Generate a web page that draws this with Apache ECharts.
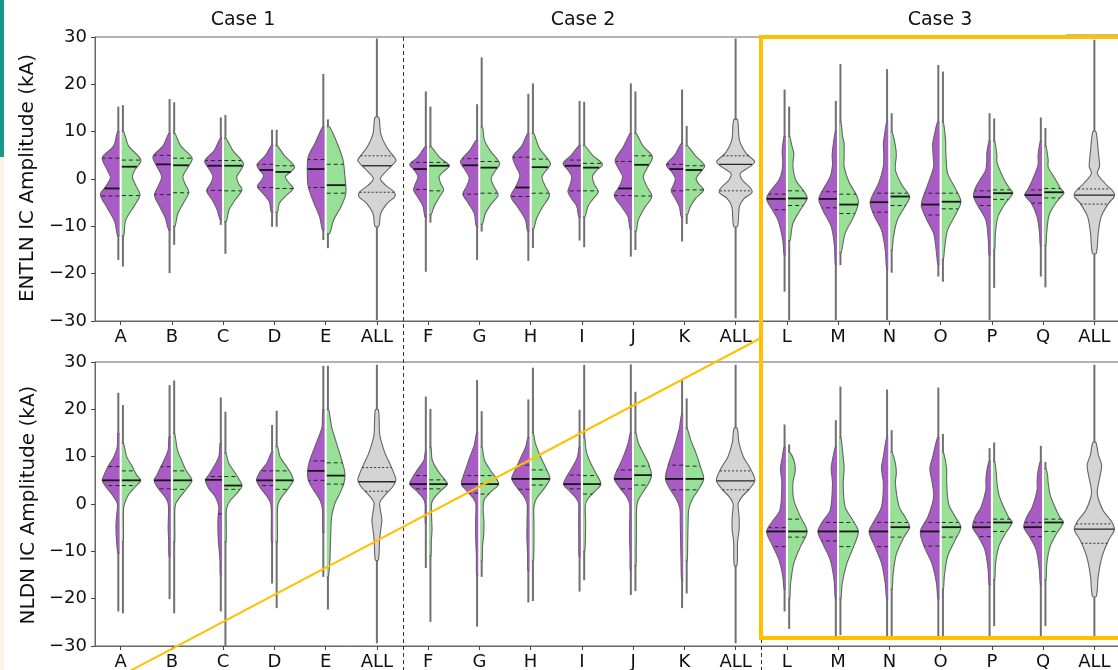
<!DOCTYPE html>
<html>
<head>
<meta charset="utf-8">
<script src="https://cdn.jsdelivr.net/npm/echarts@6/dist/echarts.min.js"></script>
<style>
  html, body { margin: 0; padding: 0; background: #ffffff; }
  #chart { width: 1118px; height: 670px; }
</style>
</head>
<body>
<div id="chart"></div>
<script>
// Sites / cases along the x axis (one "ALL" summary per case)
const CATEGORIES = ['A', 'B', 'C', 'D', 'E', 'ALL', 'F', 'G', 'H', 'I', 'J', 'K', 'ALL',
                    'L', 'M', 'N', 'O', 'P', 'Q', 'ALL'];
const CASE_TITLES = ['Case 1', 'Case 2', 'Case 3'];

// One half violin: tail extent (lo, hi) in kA, quartiles [q1, median, q3],
// and the kernel density profile as [amplitude kA, relative density] from top to bottom.
const H = (lo, hi, q, d) => ({ lo, hi, q, d });

// ---------- ENTLN IC amplitude ----------
const entlnPurple = [
  H(-17.1, 15.3, [-3.6, -2.0, 4.4], [[10, .05], [7, .25], [4.5, .85], [2, .6], [0.3, .42], [-1.5, .65], [-3.3, .95], [-6, .6], [-9, .2], [-12, .05]]),
  H(-19.9, 16.9, [-3.3, 3.1, 5.0], [[9.6, .05], [7, .35], [4.7, .88], [2.5, .65], [0.5, .42], [-1.5, .6], [-3.4, .8], [-6, .5], [-8, .25], [-10.8, .05]]),
  H(-9.7, 13.0, [-2.4, 2.8, 3.9], [[8.5, .05], [6, .35], [3.8, .85], [2, .6], [0.5, .42], [-1, .55], [-2.5, .75], [-4.5, .45], [-6.5, .2], [-8.5, .05]]),
  H(-10.1, 10.4, [-1.8, 1.9, 3.1], [[7, .05], [5, .35], [3, .8], [1.8, .65], [0.7, .45], [-0.5, .6], [-1.6, .78], [-3.2, .45], [-4.8, .15], [-7, .05]]),
  H(-12.9, 22.2, [-1.8, 2.1, 4.1], [[11, .05], [7.5, .45], [4.7, .8], [1.9, .85], [-1.6, .8], [-5.1, .5], [-8, .2], [-10.8, .05]]),
  null,
  H(-19.6, 18.5, [-2.2, 2.1, 3.5], [[6.8, .05], [4.5, .45], [3.1, .85], [1.8, .6], [0.5, .42], [-1, .55], [-2.3, .65], [-4, .4], [-5.8, .15], [-8, .05]]),
  H(-17.1, 15.8, [-3.2, 2.9, 4.3], [[8.2, .05], [6, .4], [3.7, .88], [2, .65], [0.3, .42], [-1.5, .55], [-3.2, .75], [-5.2, .45], [-7.3, .15], [-10, .05]]),
  H(-17.3, 18.0, [-3.7, -1.8, 4.6], [[9.6, .05], [7, .35], [4.7, .82], [2.6, .65], [0.8, .45], [-1.5, .65], [-3.7, .93], [-6, .55], [-8.7, .15], [-11, .05]]),
  H(-13.0, 16.5, [-2.5, 2.8, 4.0], [[7, .05], [5, .45], [3.3, .87], [1.8, .6], [0.5, .42], [-1.2, .5], [-2.7, .62], [-4.3, .4], [-5.8, .15], [-8, .05]]),
  H(-16.4, 20.2, [-3.5, -2.0, 3.7], [[9.6, .05], [6.8, .4], [4.0, .83], [2.2, .65], [0.5, .44], [-1.5, .6], [-3.5, .88], [-5.8, .5], [-8, .15], [-10.5, .05]]),
  H(-13.2, 18.9, [-2.5, 2.1, 3.1], [[7.5, .05], [5, .4], [3.0, .83], [1.5, .55], [0.1, .36], [-1.2, .45], [-2.5, .58], [-4.2, .35], [-5.8, .15], [-8, .05]]),
  null,
  H(-23.8, 18.9, [-6.5, -4.2, -3.2], [[9, .03], [6.5, .12], [5.4, .13], [3.5, .1], [1.5, .15], [-0.2, .3], [-2.3, .7], [-4.1, .95], [-6.2, .7], [-8.7, .35], [-12.9, .1], [-16, .03]]),
  H(-29.8, 16.5, [-6.1, -4.2, -2.7], [[10, .03], [7, .15], [5, .2], [3, .18], [0.5, .3], [-2, .65], [-4.3, .9], [-6.9, .65], [-10, .25], [-14, .08], [-18, .03]]),
  H(-29.8, 23.2, [-7.0, -4.9, -3.0], [[12, .03], [9, .15], [7.5, .2], [5, .18], [2.6, .2], [-0.9, .45], [-3.7, .8], [-5.1, .9], [-7.6, .7], [-10.8, .3], [-15, .1], [-19, .03]]),
  H(-20.6, 24.1, [-7.6, -5.4, -3.0], [[12, .05], [9.6, .2], [7.5, .3], [5, .28], [2.6, .25], [-1.6, .6], [-4.4, .85], [-5.8, .9], [-8.7, .6], [-11.5, .25], [-15.7, .1], [-18, .03]]),
  H(-29.8, 13.9, [-5.6, -3.8, -2.5], [[8, .03], [5.5, .15], [4, .15], [2, .2], [0.5, .4], [-1.9, .75], [-3.7, .85], [-5.8, .6], [-8.7, .2], [-12.9, .07], [-16, .03]]),
  H(-20.6, 13.0, [-5.1, -3.4, -2.3], [[8, .03], [5, .15], [3, .15], [-0.2, .45], [-2.3, .7], [-3.4, .85], [-5.1, .5], [-8, .2], [-11.5, .07], [-14, .03]]),
  null
];
const entlnGreen = [
  H(-18.5, 15.6, [-3.5, 2.6, 4.0], [[10, .05], [7, .3], [4, .95], [2, .65], [0.5, .5], [-1.5, .7], [-3.4, .9], [-6, .55], [-8.7, .15], [-12, .05]]),
  H(-13.9, 16.2, [-2.9, 2.9, 4.4], [[9.6, .05], [7, .35], [4.4, .95], [2.3, .7], [0.5, .46], [-1.2, .6], [-2.8, .78], [-5, .5], [-7.3, .2], [-10, .05]]),
  H(-15.8, 13.5, [-2.5, 2.8, 3.9], [[8.5, .05], [6, .4], [3.3, .95], [1.8, .8], [0.5, .6], [-1, .7], [-2.3, .88], [-4.5, .5], [-6.5, .2], [-9, .05]]),
  H(-10.1, 10.4, [-2.0, 1.5, 2.8], [[7, .05], [5, .4], [2.6, .95], [1.5, .75], [0.5, .46], [-0.8, .65], [-2.0, .88], [-3.5, .5], [-5.1, .15], [-7, .05]]),
  H(-14.6, 12.6, [-3.0, -1.3, 3.1], [[11, .1], [7.5, .5], [4, .8], [0.5, .9], [-3, .95], [-5.8, .7], [-8.7, .3], [-11.5, .1]]),
  null,
  H(-9.2, 15.3, [-2.5, 2.8, 3.5], [[6.8, .05], [4.5, .5], [2.8, 1.0], [1.6, .7], [0.5, .46], [-1, .55], [-2.3, .7], [-4, .45], [-5.8, .2], [-7.5, .05]]),
  H(-11.1, 25.7, [-3.0, 2.4, 3.7], [[11, .05], [8.2, .15], [6, .45], [3.3, .95], [1.6, .7], [0.1, .5], [-1.6, .65], [-3.4, .87], [-5.3, .5], [-7.3, .2], [-9.5, .05]]),
  H(-14.6, 20.2, [-3.0, 2.5, 4.2], [[9.6, .05], [6.5, .35], [3.3, .93], [1.8, .7], [0.5, .48], [-1.5, .65], [-3.4, .88], [-6, .5], [-8.3, .2], [-10.5, .05]]),
  H(-14.4, 16.3, [-2.5, 2.4, 3.3], [[7, .05], [5, .45], [3.1, .97], [1.8, .65], [0.5, .44], [-1.2, .55], [-2.7, .75], [-4.3, .45], [-5.8, .2], [-8, .05]]),
  H(-15.0, 18.5, [-3.6, 3.0, 4.9], [[9.6, .05], [7, .4], [4.7, .9], [2.5, .65], [0.5, .42], [-1.5, .6], [-3.7, .87], [-6, .5], [-8.7, .15], [-11, .05]]),
  H(-9.5, 11.2, [-2.3, 1.9, 2.8], [[7, .05], [5, .45], [2.8, .95], [1.5, .75], [0.1, .5], [-1.1, .65], [-2.3, .9], [-4, .5], [-5.8, .2], [-7.5, .05]]),
  null,
  H(-29.8, 15.3, [-5.6, -4.1, -2.5], [[9, .03], [7, .15], [5.5, .25], [4, .22], [2.6, .2], [-0.2, .35], [-2.7, .8], [-4.1, .95], [-6.5, .6], [-9.4, .2], [-13, .05]]),
  H(-18.2, 24.3, [-7.3, -5.4, -3.2], [[12, .03], [9, .12], [7.5, .2], [5, .2], [2.6, .2], [-0.6, .45], [-3.4, .85], [-5.1, .95], [-8, .7], [-11.5, .25], [-15.5, .05]]),
  H(-19.8, 13.9, [-5.6, -3.7, -3.0], [[10, .03], [7, .2], [5, .25], [1.9, .2], [-1.3, .55], [-3.7, .95], [-5.5, .75], [-8.7, .3], [-12.2, .1], [-15, .03]]),
  H(-21.7, 22.7, [-6.3, -4.8, -3.0], [[12, .03], [8, .15], [6.5, .15], [4, .18], [1.2, .25], [-2.3, .7], [-4.8, .95], [-7.3, .7], [-10.8, .25], [-14.4, .1], [-17, .03]]),
  H(-23.0, 12.8, [-4.3, -3.0, -2.3], [[8, .03], [5, .15], [3.5, .15], [0.1, .5], [-1.9, .8], [-3.0, .98], [-5.1, .6], [-8, .2], [-11.5, .07], [-15, .03]]),
  H(-22.9, 10.8, [-4.0, -2.8, -2.0], [[7, .03], [4, .15], [2.5, .15], [-0.2, .55], [-2, .8], [-2.9, .98], [-4.8, .6], [-7.6, .2], [-11.5, .07], [-14, .03]]),
  null
];
const entlnAll = [
  null, null, null, null, null,
  H(-29.8, 29.7, [-2.8, 2.8, 4.9], [[13, .05], [9.6, .15], [6.8, .45], [4.4, .9], [3.8, .95], [1.9, .5], [0.1, .13], [-1.3, .4], [-2.7, .85], [-3.7, .9], [-5.1, .5], [-7.3, .15], [-10, .05]]),
  null, null, null, null, null, null,
  H(-29.4, 29.7, [-2.5, 3.1, 4.9], [[12.5, .05], [8.2, .15], [5.4, .5], [3.7, .95], [2.6, .7], [1.2, .2], [-0.2, .3], [-2, .75], [-2.9, .8], [-4.1, .4], [-5.8, .15], [-10, .05]]),
  null, null, null, null, null, null,
  H(-29.8, 29.4, [-5.3, -3.4, -2.1], [[10, .03], [6, .15], [4, .2], [2.6, .22], [1.2, .1], [-0.9, .5], [-2.7, .95], [-3.7, 1.0], [-5.1, .7], [-8, .3], [-11.5, .15], [-15.7, .05]])
];

// ---------- NLDN IC amplitude ----------
const nldnPurple = [
  H(-22.7, 23.5, [3.9, 5.0, 7.9], [[14.9, .03], [12.1, .06], [10, .24], [7.9, .55], [6.1, .76], [5.0, .85], [3.7, .67], [1.9, .32], [0.1, .06], [-2.7, .1], [-4.8, .13], [-7.6, .1], [-10.4, .03]]),
  H(-20.1, 25.1, [3.2, 5.0, 7.9], [[14.2, .03], [11.4, .08], [9.3, .29], [7.9, .46], [6.1, .67], [5.0, .82], [3.3, .6], [1.5, .24], [0.1, .08], [-2, .06], [-5, .08], [-8, .05], [-11, .03]]),
  H(-22.7, 22.5, [-2.1, 5.1, 5.8], [[12.8, .04], [10, .11], [7.9, .37], [6.1, .64], [5.1, .82], [3.3, .64], [1.5, .29], [-0.6, .11], [-2.7, .15], [-5, .16], [-8, .13], [-11.8, .05], [-15, .03]]),
  H(-16.8, 16.7, [3.9, 5.0, 7.0], [[11, .03], [8.6, .29], [6.8, .64], [5.0, .82], [3.3, .6], [1.5, .25], [0.1, .08], [-2, .04], [-8, .04]]),
  H(-15.4, 29.2, [5.0, 7.0, 9.1], [[19.9, .03], [16.3, .07], [14.9, .18], [12.1, .45], [9.3, .71], [7.2, .83], [5.1, .8], [3.0, .53], [0.8, .18], [-1.3, .04], [-6, .03]]),
  null,
  H(-13.5, 22.7, [3.2, 4.2, 6.0], [[11, .03], [9.3, .1], [7.2, .45], [5.5, .72], [4.2, .85], [2.8, .5], [1.2, .15], [0, .04], [-4, .03]]),
  H(-25.9, 26.2, [2.3, 4.2, 6.0], [[15, .03], [12.5, .15], [10, .38], [8, .55], [6, .72], [4.2, .83], [2.8, .55], [1.2, .2], [0, .07], [-3, .08], [-7, .08], [-11, .04], [-15, .03]]),
  H(-20.8, 22.1, [3.1, 5.3, 8.2], [[14, .03], [12, .15], [10, .38], [8, .6], [6.5, .78], [5.3, .88], [3.5, .6], [1.5, .22], [0, .07], [-3, .07], [-7, .08], [-11, .04], [-14, .03]]),
  H(-18.5, 19.9, [3.2, 4.2, 6.1], [[12, .03], [9.9, .12], [7.5, .42], [6, .65], [4.2, .85], [2.8, .55], [1.2, .18], [0, .05], [-4, .05], [-8, .04], [-11, .03]]),
  H(-19.2, 29.5, [3.2, 5.3, 7.2], [[15, .03], [12.8, .15], [10, .4], [8, .62], [6.5, .8], [5.3, .88], [3.5, .6], [1.5, .22], [0, .07], [-3, .06], [-7, .07], [-11, .04], [-14, .03]]),
  H(-22.0, 26.2, [3.0, 5.3, 8.2], [[19, .03], [16, .15], [13, .35], [10.5, .55], [8, .75], [5.3, .88], [3, .62], [1, .3], [-1, .12], [-4, .1], [-8, .08], [-12, .06], [-16, .03]]),
  null,
  H(-22.7, 16.8, [-9.0, -5.8, -5.0], [[12, .03], [10, .12], [7.5, .22], [4.4, .15], [-1.3, .25], [-3.7, .65], [-5.8, .95], [-8.3, .7], [-11.8, .3], [-15.3, .1], [-18, .03]]),
  H(-28.0, 17.7, [-7.8, -5.8, -3.9], [[12, .03], [10, .15], [7.5, .25], [4.4, .18], [-1.3, .3], [-3.7, .7], [-5.8, .95], [-8.3, .7], [-11.8, .3], [-16, .1], [-20, .03]]),
  H(-28.0, 24.2, [-9.0, -5.8, -3.9], [[14, .03], [10, .2], [7.5, .3], [4.4, .2], [-0.6, .3], [-3.7, .7], [-5.8, .95], [-9, .65], [-12.5, .3], [-16.8, .1], [-20, .03]]),
  H(-28.0, 24.6, [-8.9, -5.8, -3.9], [[14, .05], [10, .3], [7.5, .45], [5, .35], [1.5, .25], [-2.7, .55], [-5.8, .95], [-9, .75], [-12.5, .35], [-16.8, .1], [-20, .03]]),
  H(-28.0, 11.8, [-6.9, -4.9, -3.9], [[9, .03], [7, .15], [5, .2], [3, .2], [-0.6, .45], [-2.7, .75], [-4.9, .9], [-6.9, .6], [-9.7, .25], [-13.9, .08], [-17, .03]]),
  H(-28.0, 12.3, [-6.9, -4.9, -3.9], [[9, .03], [7, .15], [5, .2], [3, .2], [-0.6, .45], [-2.8, .75], [-4.9, .9], [-6.9, .6], [-9.7, .25], [-13.9, .08], [-17, .03]]),
  null
];
const nldnGreen = [
  H(-23.1, 20.9, [3.9, 5.0, 7.0], [[12.8, .04], [10, .2], [7.9, .5], [6.1, .73], [5.0, .94], [3.7, .67], [1.9, .29], [0.1, .09], [-1.5, .03], [-8, .03]]),
  H(-23.1, 26.1, [3.1, 5.0, 7.0], [[14.9, .03], [11.4, .18], [9.3, .39], [7.2, .62], [5.0, .94], [3.3, .67], [1.5, .32], [0.1, .09], [-1.5, .03], [-8, .03]]),
  H(-30.0, 19.5, [3.1, 3.9, 5.8], [[10.7, .04], [8.6, .18], [6.5, .53], [5.1, .74], [3.8, .88], [2.3, .62], [0.8, .27], [-0.6, .09], [-2, .04], [-8, .04]]),
  H(-22.0, 19.7, [3.1, 5.0, 7.0], [[12.1, .05], [10, .18], [7.9, .53], [6.1, .8], [5.0, .88], [3.3, .62], [1.5, .27], [0.1, .09], [-1.5, .04], [-8, .04]]),
  H(-22.3, 29.2, [4.2, 6.0, 8.7], [[19.9, .05], [16.3, .2], [12.8, .46], [9.3, .73], [6.5, .9], [4.4, .85], [2.3, .64], [0.1, .37], [-2.7, .2], [-6.9, .15], [-11.8, .11], [-15.4, .03]]),
  null,
  H(-24.9, 20.1, [3.2, 4.2, 5.1], [[12, .03], [9.3, .1], [7, .4], [5.2, .75], [4.2, .9], [2.8, .55], [1.2, .18], [0, .06], [-3, .07], [-5.5, .09], [-8, .05], [-11, .03]]),
  H(-15.4, 19.6, [2.1, 4.2, 6.0], [[12, .03], [9.3, .15], [7.2, .45], [5.8, .7], [4.2, .9], [2.6, .5], [1, .15], [-1, .08], [-3.5, .12], [-6, .12], [-9, .05], [-12, .03]]),
  H(-20.5, 28.8, [4.0, 5.3, 7.2], [[15, .03], [13, .12], [10.5, .35], [8.5, .58], [6.8, .78], [5.3, .9], [3.3, .6], [1.2, .2], [-0.5, .06], [-4, .06], [-8, .06], [-12, .03]]),
  H(-16.1, 29.4, [2.1, 4.2, 6.0], [[14, .03], [11, .12], [8.6, .35], [6.5, .62], [4.2, .88], [2.6, .55], [1, .18], [-0.5, .06], [-3.5, .08], [-7, .07], [-10, .03]]),
  H(-18.4, 23.7, [4.0, 6.1, 8.0], [[15, .03], [13, .15], [10.5, .45], [8.5, .7], [6.1, .85], [4.2, .68], [2, .32], [0.2, .1], [-2.5, .06], [-6, .06], [-10, .04], [-13, .03]]),
  H(-18.9, 22.3, [3.0, 5.3, 8.0], [[16, .03], [13.5, .22], [10.7, .5], [8, .72], [5.3, .9], [3, .62], [1, .3], [-1, .12], [-4, .08], [-8, .06], [-12, .03]]),
  null,
  H(-26.4, 12.6, [-7.0, -5.8, -3.2], [[11, .03], [9.3, .25], [7.2, .33], [4.4, .2], [0.8, .25], [-2.7, .6], [-5.8, .95], [-9, .6], [-12.5, .25], [-16.8, .08], [-20, .03]]),
  H(-27.7, 24.8, [-9.0, -5.8, -3.9], [[14, .03], [10, .15], [7.5, .2], [4.4, .15], [-0.6, .25], [-3.4, .65], [-5.8, .95], [-9, .7], [-12.5, .35], [-16.8, .1], [-20, .03]]),
  H(-28.0, 15.6, [-7.0, -4.9, -3.9], [[11, .03], [8.6, .2], [6.5, .25], [4.4, .2], [-0.6, .4], [-3.0, .75], [-4.9, .95], [-7.0, .65], [-10.6, .25], [-14.8, .08], [-18, .03]]),
  H(-28.0, 14.8, [-7.0, -4.9, -3.9], [[11, .03], [7.5, .2], [5, .2], [0.1, .3], [-2.7, .65], [-4.9, .95], [-7.6, .65], [-11.1, .25], [-15.3, .08], [-18, .03]]),
  H(-25.8, 13.0, [-5.8, -3.9, -3.2], [[9, .03], [6.5, .12], [4.5, .15], [2, .25], [-0.6, .5], [-2.7, .75], [-3.9, .95], [-6.2, .6], [-9, .25], [-12.5, .08], [-16, .03]]),
  H(-25.8, 8.9, [-5.8, -3.9, -3.2], [[7.5, .03], [6, .12], [4.5, .15], [2, .25], [-0.6, .5], [-2.7, .75], [-3.9, .95], [-6.2, .6], [-9, .25], [-12.5, .08], [-16, .03]]),
  null
];
const nldnAll = [
  null, null, null, null, null,
  H(-29.4, 29.4, [2.7, 4.7, 7.7], [[19.9, .03], [14.9, .09], [13.5, .16], [10.7, .38], [7.9, .7], [6.1, .88], [5.1, .95], [3.7, .79], [2.3, .47], [0.8, .16], [0.1, .09], [-2, .16], [-3.4, .21], [-4.8, .17], [-7.6, .09], [-11.8, .03]]),
  null, null, null, null, null, null,
  H(-29.4, 29.4, [3.0, 4.9, 7.0], [[16, .03], [13, .12], [10, .35], [7.5, .72], [5, .96], [3.2, .68], [1.5, .28], [0, .08], [-2.7, .13], [-5.5, .13], [-8, .05], [-13, .02]]),
  null, null, null, null, null, null,
  H(-28.7, 29.4, [-8.3, -5.3, -4.2], [[13, .03], [10.5, .15], [8.2, .33], [6, .25], [2.3, .1], [-1.3, .4], [-3.7, .85], [-5.4, 1.0], [-7.6, .7], [-11.1, .35], [-15.3, .15], [-19.5, .05]])
];

// ---------- drawing ----------
const PURPLE = '#a95bc6';
const GREEN = '#96e196';
const GREY = '#d4d4d4';
const EDGE = '#646464';
const TAIL_COLOR = '#707070';
const GAP = 1.2;      // white gap between the two halves (px each side)
const TAIL = 1.0;     // minimum outline offset
const SCALE = 19;     // px per unit of relative density
const FONT = 'DejaVu Sans';

function densAt(d, v) {
  if (v >= d[0][0]) return d[0][1];
  for (let k = 1; k < d.length; k++) {
    if (v >= d[k][0]) {
      const [v0, w0] = d[k - 1], [v1, w1] = d[k];
      const t = (v0 - v) / (v0 - v1);
      return w0 + (w1 - w0) * t;
    }
  }
  return d[d.length - 1][1];
}

function halfViolin(kids, h, cx, side, y, fill) {
  const inner = cx + side * GAP;
  const tx = inner + side * 1.1;
  kids.push({ type: 'line', shape: { x1: tx, y1: y(h.hi), x2: tx, y2: y(h.lo) },
              style: { stroke: TAIL_COLOR, lineWidth: 2 } });
  const first = h.d[0][0], last = h.d[h.d.length - 1][0];
  const pts = [[inner, y(first)]];
  h.d.forEach(([v, w]) => pts.push([inner + side * (TAIL + w * SCALE), y(v)]));
  pts.push([inner, y(last)]);
  kids.push({ type: 'polyline', shape: { points: pts, smooth: 0.3 },
              style: { fill: fill, stroke: EDGE, lineWidth: 1.1 } });
  h.q.forEach((q, k) => {
    const w = TAIL + densAt(h.d, q) * SCALE;
    kids.push({ type: 'line', shape: { x1: inner, y1: y(q), x2: inner + side * w, y2: y(q) },
                style: k === 1
                  ? { stroke: '#161616', lineWidth: 1.8 }
                  : { stroke: '#262626', lineWidth: 1, lineDash: [4, 3] } });
  });
}

function fullViolin(kids, h, cx, y) {
  kids.push({ type: 'line', shape: { x1: cx, y1: y(h.hi), x2: cx, y2: y(h.lo) },
              style: { stroke: TAIL_COLOR, lineWidth: 2 } });
  const left = h.d.map(([v, w]) => [cx - (TAIL + w * SCALE), y(v)]);
  const right = h.d.slice().reverse().map(([v, w]) => [cx + (TAIL + w * SCALE), y(v)]);
  kids.push({ type: 'polygon', shape: { points: left.concat(right), smooth: 0.3 },
              style: { fill: GREY, stroke: EDGE, lineWidth: 1.1 } });
  h.q.forEach((q, k) => {
    const w = TAIL + densAt(h.d, q) * SCALE;
    kids.push({ type: 'line', shape: { x1: cx - w, y1: y(q), x2: cx + w, y2: y(q) },
                style: k === 1
                  ? { stroke: '#262626', lineWidth: 1.3 }
                  : { stroke: '#333333', lineWidth: 1, lineDash: [2, 2] } });
  });
}

function makeRenderer(purple, green, all) {
  return function (params, api) {
    const i = api.value(0);
    const cx = api.coord([i, 0])[0];
    const y = v => api.coord([i, v])[1];
    const kids = [];
    if (all[i]) {
      fullViolin(kids, all[i], cx, y);
    } else {
      halfViolin(kids, purple[i], cx, -1, y, PURPLE);
      halfViolin(kids, green[i], cx, 1, y, GREEN);
    }
    return { type: 'group', children: kids };
  };
}

const minusSign = v => String(v).replace('-', '\u2212');

function xAxisFor(gridIndex) {
  return {
    type: 'category', gridIndex, data: CATEGORIES, boundaryGap: true,
    axisLine: { show: true, onZero: false, lineStyle: { color: '#666', width: 1 } },
    axisTick: { show: true, alignWithLabel: true, length: 4, lineStyle: { color: '#444' } },
    axisLabel: { interval: 0, fontSize: 18, color: '#111', margin: 7, fontFamily: FONT },
    splitLine: { show: false }
  };
}
function yAxisFor(gridIndex) {
  return {
    type: 'value', gridIndex, min: -30, max: 30, interval: 10,
    axisLine: { show: true, onZero: false, lineStyle: { color: '#666', width: 1 } },
    axisTick: { show: true, length: 4, lineStyle: { color: '#444' } },
    axisLabel: { fontSize: 18, color: '#111', margin: 8, fontFamily: FONT, formatter: minusSign },
    splitLine: { show: false }
  };
}

const chart = echarts.init(document.getElementById('chart'), null, { renderer: 'canvas' });
const seriesData = CATEGORIES.map((c, i) => [i, 0]);

chart.setOption({
  animation: false,
  backgroundColor: '#ffffff',
  grid: [
    { left: 95, top: 37, width: 1025, height: 284, show: true, borderColor: '#666', borderWidth: 1,
      backgroundColor: 'transparent', outerBoundsMode: 'none', containLabel: false },
    { left: 95, top: 362, width: 1025, height: 284, show: true, borderColor: '#666', borderWidth: 1,
      backgroundColor: 'transparent', outerBoundsMode: 'none', containLabel: false }
  ],
  xAxis: [xAxisFor(0), xAxisFor(1)],
  yAxis: [yAxisFor(0), yAxisFor(1)],
  series: [
    { type: 'custom', name: 'ENTLN', xAxisIndex: 0, yAxisIndex: 0, data: seriesData,
      encode: { x: 0, y: 1 }, clip: false, renderItem: makeRenderer(entlnPurple, entlnGreen, entlnAll) },
    { type: 'custom', name: 'NLDN', xAxisIndex: 1, yAxisIndex: 1, data: seriesData,
      encode: { x: 0, y: 1 }, clip: false, renderItem: makeRenderer(nldnPurple, nldnGreen, nldnAll) }
  ]
});

// Case separators sit halfway between the last site of one case and the first of the next
const px = i => chart.convertToPixel({ xAxisIndex: 0 }, i);
const sepX = [(px(5) + px(6)) / 2, (px(12) + px(13)) / 2];
const titleX = [243, 583, 940];

const ORANGE = '#ffc000';
const graphics = [
  { type: 'rect', shape: { x: 0, y: 0, width: 4, height: 157 }, style: { fill: '#17998a' }, z: 10 },
  { type: 'rect', shape: { x: 0, y: 157, width: 4, height: 513 }, style: { fill: '#fbf4e4' }, z: 10 },
  { type: 'text', x: 28, y: 178, rotation: Math.PI / 2,
    style: { text: 'ENTLN IC Amplitude (kA)', fontSize: 20, fontFamily: FONT, fill: '#111',
             align: 'center', verticalAlign: 'middle' }, z: 10 },
  { type: 'text', x: 29, y: 505, rotation: Math.PI / 2,
    style: { text: 'NLDN IC Amplitude (kA)', fontSize: 20, fontFamily: FONT, fill: '#111',
             align: 'center', verticalAlign: 'middle' }, z: 10 },
  { type: 'line', shape: { x1: 1066, y1: 35, x2: 1118, y2: 35 }, style: { stroke: '#777', lineWidth: 1 }, z: 10 }
];
CASE_TITLES.forEach((t, k) => graphics.push({
  type: 'text', x: titleX[k], y: 20,
  style: { text: t, fontSize: 19, fontFamily: FONT, fill: '#111', align: 'center', verticalAlign: 'middle' }, z: 10
}));
sepX.forEach(x => graphics.push({
  type: 'line', shape: { x1: Math.round(x) + 0.5, y1: 37, x2: Math.round(x) + 0.5, y2: 670 },
  style: { stroke: '#333', lineWidth: 1, lineDash: [4, 3] }, z: 11
}));
// Highlight box around Case 3 and the connecting stroke
graphics.push(
  { type: 'rect', shape: { x: 761, y: 37, width: 420, height: 601 },
    style: { fill: null, stroke: ORANGE, lineWidth: 4 }, z: 20 },
  { type: 'line', shape: { x1: 128, y1: 672, x2: 761, y2: 338 },
    style: { stroke: ORANGE, lineWidth: 2 }, z: 20 }
);
chart.setOption({ graphic: graphics });
</script>
</body>
</html>
